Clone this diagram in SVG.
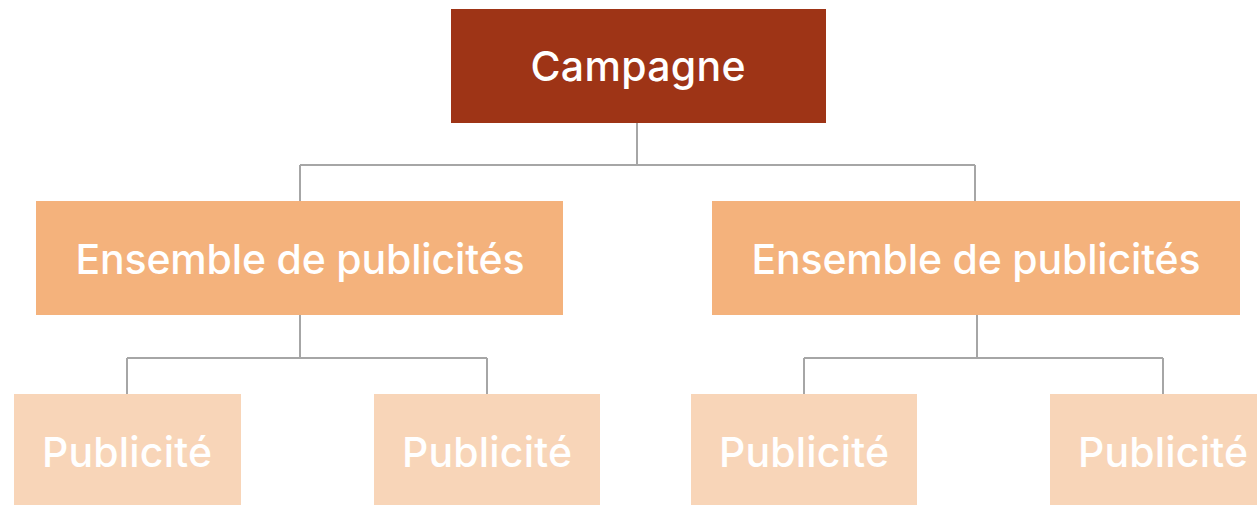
<svg xmlns="http://www.w3.org/2000/svg" width="1257" height="505" viewBox="0 0 1257 505">
<style>
.t{font-family:Inter,"Open Sans","Liberation Sans",sans-serif;fill:#ffffff;text-anchor:middle;font-size:41px;font-weight:500}
.c{stroke:#a6a6a6;stroke-width:2;fill:none}
.l0{fill:#9e3416}
.l1{fill:#f4b27c}
.l2{fill:#f8d5b8}
</style>
<rect width="1257" height="505" fill="#ffffff"/>
<g id="connectors">
<path class="c" d="M637 123V165M300 165H975M300 165V201M975 165V201"/>
<path class="c" d="M300 315V358M127 358H487M127 358V394M487 358V394"/>
<path class="c" d="M977 315V358M804 358H1163M804 358V394M1163 358V394"/>
</g>
<g id="campagne"><rect class="l0" x="451" y="9" width="375" height="114"/><text class="t" x="638" y="81" textLength="215">Campagne</text></g>
<g id="ensemble1"><rect class="l1" x="36" y="201" width="527" height="114"/><text class="t" x="300" y="274" textLength="449">Ensemble de publicités</text></g>
<g id="ensemble2"><rect class="l1" x="712" y="201" width="528" height="114"/><text class="t" x="976" y="274" textLength="449">Ensemble de publicités</text></g>
<g id="pub1"><rect class="l2" x="14" y="394" width="227" height="114"/><text class="t" x="127" y="467" textLength="170">Publicité</text></g>
<g id="pub2"><rect class="l2" x="374" y="394" width="226" height="114"/><text class="t" x="487" y="467" textLength="170">Publicité</text></g>
<g id="pub3"><rect class="l2" x="691" y="394" width="226" height="114"/><text class="t" x="804" y="467" textLength="170">Publicité</text></g>
<g id="pub4"><rect class="l2" x="1050" y="394" width="227" height="114"/><text class="t" x="1163" y="467" textLength="170">Publicité</text></g>
</svg>
